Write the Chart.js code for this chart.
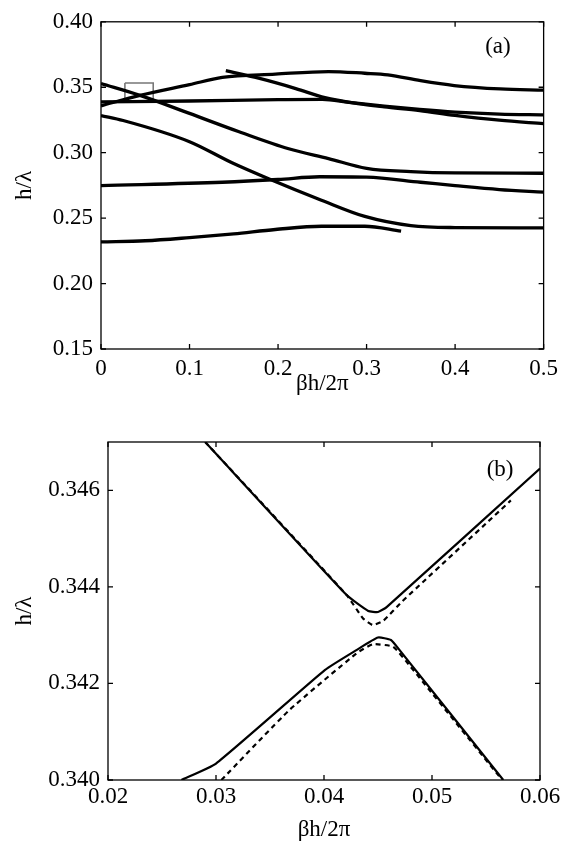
<!DOCTYPE html>
<html>
<head>
<meta charset="utf-8">
<script src="https://cdn.jsdelivr.net/npm/chart.js@4"></script>
<style>
html, body { margin: 0; padding: 0; background: #fff; }
#wrapA { position: absolute; left: 0; top: 0; width: 564px; height: 410px; }
#wrapB { position: absolute; left: 0; top: 410px; width: 564px; height: 434px; }
</style>
</head>
<body>
<div id="wrapA"><canvas id="chartA"></canvas></div>
<div id="wrapB"><canvas id="chartB"></canvas></div>
<script>
const serif = "'Liberation Serif', 'Times New Roman', serif"

// ---- panel (a): bands h/lambda vs beta h / 2pi
const xTicksA = [0, 0.1, 0.2, 0.3, 0.4, 0.5]
const yTicksA = [0.15, 0.20, 0.25, 0.30, 0.35, 0.40]

const bandA_x = [0, 0.044, 0.1, 0.137, 0.197, 0.257, 0.298, 0.324, 0.361, 0.399, 0.451, 0.5]
const bandA_y = [0.3358, 0.3438, 0.3520, 0.3575, 0.3600, 0.3620, 0.3607, 0.3595, 0.3550, 0.3513, 0.3487, 0.3478]

const bandB_x = [0, 0.044, 0.1, 0.156, 0.212, 0.257, 0.3, 0.35, 0.4, 0.5]
const bandB_y = [0.3528, 0.3438, 0.3300, 0.3160, 0.3030, 0.2955, 0.2880, 0.2855, 0.2845, 0.2843]

const bandC_x = [0, 0.1, 0.2, 0.25, 0.28, 0.32, 0.36, 0.4, 0.45, 0.5]
const bandC_y = [0.3388, 0.3395, 0.3405, 0.3408, 0.3385, 0.3355, 0.3330, 0.3310, 0.3295, 0.3289]

const bandD_x = [0.141, 0.178, 0.22, 0.253, 0.29, 0.32, 0.36, 0.4, 0.45, 0.5]
const bandD_y = [0.3627, 0.3569, 0.3490, 0.3420, 0.3375, 0.3350, 0.3322, 0.3285, 0.3248, 0.3222]

const bandE_x = [0, 0.025, 0.1, 0.148, 0.19, 0.249, 0.298, 0.35, 0.4, 0.5]
const bandE_y = [0.3284, 0.3246, 0.3084, 0.2923, 0.2799, 0.2637, 0.2513, 0.2443, 0.2428, 0.2425]

const bandF_x = [0, 0.05, 0.1, 0.15, 0.197, 0.249, 0.298, 0.339]
const bandF_y = [0.2319, 0.2327, 0.2351, 0.2380, 0.2413, 0.2438, 0.2438, 0.2401]

const bandG_x = [0, 0.137, 0.2, 0.247, 0.3, 0.361, 0.4, 0.45, 0.5]
const bandG_y = [0.2749, 0.2774, 0.2795, 0.2816, 0.2813, 0.2774, 0.2748, 0.2718, 0.2699]

// zoom window marker
const box_x = [0.027, 0.059, 0.059, 0.027, 0.027]
const box_y = [0.3532, 0.3532, 0.3388, 0.3388, 0.3532]

// ---- panel (b): anticrossing detail
const xTicksB = [0.02, 0.03, 0.04, 0.05, 0.06]
const yTicksB = [0.340, 0.342, 0.344, 0.346]

const upSolid_x = [0.029, 0.0421, 0.0441, 0.0450, 0.0458, 0.060]
const upSolid_y = [0.3470, 0.34383, 0.34350, 0.34348, 0.34358, 0.34645]

const upDash_x = [0.029, 0.0421, 0.0436, 0.0445, 0.0455, 0.0472, 0.0573]
const upDash_y = [0.3470, 0.34383, 0.34335, 0.34321, 0.34330, 0.34369, 0.34579]

const loSolid_x = [0.0268, 0.0300, 0.0401, 0.0430, 0.0450, 0.0462, 0.0470, 0.0566]
const loSolid_y = [0.3400, 0.34034, 0.34228, 0.34269, 0.34295, 0.34290, 0.34269, 0.3400]

const loDash_x = [0.0305, 0.0368, 0.0430, 0.0445, 0.0464, 0.0480, 0.0565]
const loDash_y = [0.3400, 0.34145, 0.34262, 0.34281, 0.34276, 0.34235, 0.3400]

function pts(xs, ys) {
    return xs.map((x, i) => ({ x: x, y: ys[i] }))
}

function band(xs, ys) {
    return {
        data: pts(xs, ys),
        showLine: true,
        borderColor: '#000',
        borderWidth: 3.3,
        pointRadius: 0,
        cubicInterpolationMode: 'monotone',
        borderCapStyle: 'butt',
    }
}

function detail(xs, ys, dashed) {
    return {
        data: pts(xs, ys),
        showLine: true,
        borderColor: '#000',
        borderWidth: 2.2,
        borderDash: dashed ? [5, 4] : [],
        pointRadius: 0,
        tension: 0.15,
    }
}

// matlab-like box with inward ticks on all four sides, plus panel tag
const framePlugin = {
    id: 'frame',
    afterDatasetsDraw(chart) {
        const { ctx, chartArea: a, scales } = chart
        const cfg = chart.options.plugins.frame
        ctx.save()
        ctx.strokeStyle = '#000'
        ctx.lineWidth = 1.3
        ctx.strokeRect(a.left, a.top, a.right - a.left, a.bottom - a.top)
        const tl = 5
        ctx.beginPath()
        scales.x.ticks.forEach(t => {
            const px = scales.x.getPixelForValue(t.value)
            ctx.moveTo(px, a.bottom); ctx.lineTo(px, a.bottom - tl)
            ctx.moveTo(px, a.top); ctx.lineTo(px, a.top + tl)
        })
        scales.y.ticks.forEach(t => {
            const py = scales.y.getPixelForValue(t.value)
            ctx.moveTo(a.left, py); ctx.lineTo(a.left + tl, py)
            ctx.moveTo(a.right, py); ctx.lineTo(a.right - tl, py)
        })
        ctx.stroke()
        ctx.fillStyle = '#000'
        ctx.font = '23px ' + serif
        ctx.textAlign = 'center'
        ctx.textBaseline = 'middle'
        ctx.fillText(cfg.tag, scales.x.getPixelForValue(cfg.tagX), scales.y.getPixelForValue(cfg.tagY))
        ctx.restore()
    }
}

function makeOptions(o) {
    return {
        responsive: true,
        maintainAspectRatio: false,
        animation: false,
        layout: { padding: o.padding },
        plugins: {
            legend: { display: false },
            tooltip: { enabled: false },
            frame: { tag: o.tag, tagX: o.tagX, tagY: o.tagY },
        },
        scales: {
            x: {
                type: 'linear',
                min: o.xTicks[0],
                max: o.xTicks[o.xTicks.length - 1],
                afterBuildTicks: s => { s.ticks = o.xTicks.map(v => ({ value: v })) },
                afterFit: s => { s.height = o.xHeight },
                grid: { display: false, drawTicks: false },
                border: { display: false },
                ticks: {
                    color: '#000',
                    padding: o.xPad,
                    maxRotation: 0,
                    font: { family: serif, size: 23 },
                    callback: o.xFmt,
                },
                title: {
                    display: true,
                    text: 'βh/2π',
                    color: '#000',
                    font: { family: serif, size: 23 },
                    padding: { top: 0, bottom: o.xTitlePad },
                },
            },
            y: {
                type: 'linear',
                min: o.yMin,
                max: o.yMax,
                afterBuildTicks: s => { s.ticks = o.yTicks.map(v => ({ value: v })) },
                afterFit: s => { s.width = o.yWidth },
                grid: { display: false, drawTicks: false },
                border: { display: false },
                ticks: {
                    color: '#000',
                    padding: 8,
                    font: { family: serif, size: 23 },
                    callback: o.yFmt,
                },
                title: {
                    display: true,
                    text: 'h/λ',
                    color: '#000',
                    font: { family: serif, size: 23 },
                    padding: { top: 11, bottom: 0 },
                },
            },
        },
    }
}

new Chart(document.getElementById('chartA'), {
    type: 'scatter',
    data: {
        datasets: [
            band(bandA_x, bandA_y),
            band(bandB_x, bandB_y),
            band(bandC_x, bandC_y),
            band(bandD_x, bandD_y),
            band(bandE_x, bandE_y),
            band(bandF_x, bandF_y),
            band(bandG_x, bandG_y),
            {
                data: pts(box_x, box_y),
                showLine: true,
                borderColor: '#777',
                borderWidth: 1.6,
                pointRadius: 0,
                tension: 0,
            },
        ]
    },
    options: makeOptions({
        padding: { left: 0, top: 14, right: 17, bottom: 0 },
        xTicks: xTicksA, yTicks: yTicksA, yMin: 0.15, yMax: 0.40,
        xHeight: 61, yWidth: 101, xPad: 6, xTitlePad: 12,
        xFmt: v => v === 0 ? '0' : v.toFixed(1),
        yFmt: v => v.toFixed(2),
        tag: '(a)', tagX: 0.4484, tagY: 0.3806,
    }),
    plugins: [framePlugin]
})

new Chart(document.getElementById('chartB'), {
    type: 'scatter',
    data: {
        datasets: [
            detail(upSolid_x, upSolid_y, false),
            detail(upDash_x, upDash_y, true),
            detail(loSolid_x, loSolid_y, false),
            detail(loDash_x, loDash_y, true),
        ]
    },
    options: makeOptions({
        padding: { left: 0, top: 32, right: 24, bottom: 0 },
        xTicks: xTicksB, yTicks: yTicksB, yMin: 0.340, yMax: 0.347,
        xHeight: 64, yWidth: 108, xPad: 3, xTitlePad: 0,
        xFmt: v => v.toFixed(2),
        yFmt: v => v.toFixed(3),
        tag: '(b)', tagX: 0.0563, tagY: 0.34643,
    }),
    plugins: [framePlugin]
})
</script>
</body>
</html>
